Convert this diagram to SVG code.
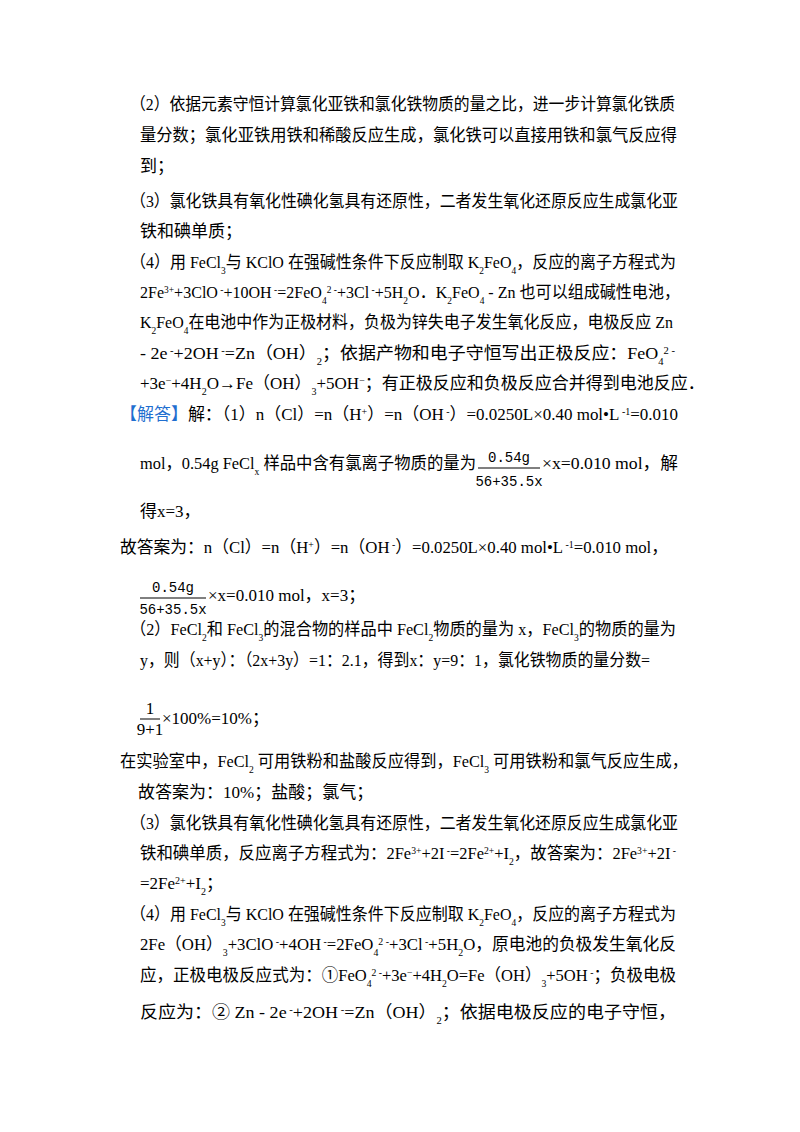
<svg xmlns="http://www.w3.org/2000/svg" width="800" height="1132" viewBox="0 0 800 1132">
<style>
.t{font-family:"Liberation Serif","Noto Sans CJK SC",serif;font-size:17px;fill:#000}
.f{font-family:"Liberation Mono","Noto Sans CJK SC",monospace;font-size:14px;fill:#000}
.b{baseline-shift:sub;font-size:10px}
.p{baseline-shift:super;font-size:10px}
.blue{fill:#1f6fd0}
line{stroke:#000;stroke-width:1}
</style>
<rect width="800" height="1132" fill="#fff"/>
<g id="text">
<text class="t" x="130" y="110" textLength="545" lengthAdjust="spacingAndGlyphs">（2）依据元素守恒计算氯化亚铁和氯化铁物质的量之比，进一步计算氯化铁质</text>
<text class="t" x="140" y="141" textLength="537" lengthAdjust="spacingAndGlyphs">量分数；氯化亚铁用铁和稀酸反应生成，氯化铁可以直接用铁和氯气反应得</text>
<text class="t" x="140" y="172">到；</text>
<text class="t" x="130" y="207" textLength="548" lengthAdjust="spacingAndGlyphs">（3）氯化铁具有氧化性碘化氢具有还原性，二者发生氧化还原反应生成氯化亚</text>
<text class="t" x="140" y="237">铁和碘单质；</text>
<text class="t" x="130" y="268" textLength="546" lengthAdjust="spacingAndGlyphs">（4）用 FeCl<tspan class="b">3</tspan>与 KClO 在强碱性条件下反应制取 K<tspan class="b">2</tspan>FeO<tspan class="b">4</tspan>，反应的离子方程式为</text>
<text class="t" x="140" y="298" textLength="540" lengthAdjust="spacingAndGlyphs">2Fe<tspan class="p">3+</tspan>+3ClO<tspan class="p"> -</tspan>+10OH<tspan class="p"> -</tspan>=2FeO<tspan class="b">4</tspan><tspan class="p">2 -</tspan>+3Cl<tspan class="p"> -</tspan>+5H<tspan class="b">2</tspan>O．K<tspan class="b">2</tspan>FeO<tspan class="b">4</tspan> - Zn 也可以组成碱性电池，</text>
<text class="t" x="140" y="328" textLength="533" lengthAdjust="spacingAndGlyphs">K<tspan class="b">2</tspan>FeO<tspan class="b">4</tspan>在电池中作为正极材料，负极为锌失电子发生氧化反应，电极反应 Zn</text>
<text class="t" x="140" y="359" textLength="535" lengthAdjust="spacingAndGlyphs"> - 2e<tspan class="p"> -</tspan>+2OH<tspan class="p"> -</tspan>=Zn（OH）<tspan class="b">2</tspan>；依据产物和电子守恒写出正极反应：FeO<tspan class="b">4</tspan><tspan class="p">2 -</tspan></text>
<text class="t" x="140" y="389">+3e<tspan class="p">−</tspan>+4H<tspan class="b">2</tspan>O→Fe（OH）<tspan class="b">3</tspan>+5OH<tspan class="p">−</tspan>；有正极反应和负极反应合并得到电池反应．</text>
<text class="t" x="120" y="420" textLength="558" lengthAdjust="spacingAndGlyphs"><tspan class="blue">【解答】</tspan>解：（1）n（Cl）=n（H<tspan class="p">+</tspan>）=n（OH<tspan class="p"> -</tspan>）=0.0250L×0.40 mol•L<tspan class="p"> -1</tspan>=0.010</text>
<text class="t" x="140" y="469" textLength="336" lengthAdjust="spacingAndGlyphs">mol，0.54g FeCl<tspan class="b">x</tspan> 样品中含有氯离子物质的量为</text>
<text class="f" x="509" y="462" text-anchor="middle">0.54g</text>
<line x1="478" y1="468" x2="540" y2="468"/>
<text class="f" x="509" y="486" text-anchor="middle">56+35.5x</text>
<text class="t" x="542" y="469" textLength="136" lengthAdjust="spacingAndGlyphs">×x=0.010 mol，解</text>
<text class="t" x="140" y="517">得x=3，</text>
<text class="t" x="120" y="553" textLength="548" lengthAdjust="spacingAndGlyphs">故答案为：n（Cl）=n（H<tspan class="p">+</tspan>）=n（OH<tspan class="p"> -</tspan>）=0.0250L×0.40 mol•L<tspan class="p"> -1</tspan>=0.010 mol，</text>
<text class="f" x="173" y="592" text-anchor="middle">0.54g</text>
<line x1="140" y1="598" x2="206" y2="598"/>
<text class="f" x="173" y="614" text-anchor="middle">56+35.5x</text>
<text class="t" x="208" y="601">×x=0.010 mol，x=3；</text>
<text class="t" x="130" y="635" textLength="546" lengthAdjust="spacingAndGlyphs">（2）FeCl<tspan class="b">2</tspan>和 FeCl<tspan class="b">3</tspan>的混合物的样品中 FeCl<tspan class="b">2</tspan>物质的量为 x，FeCl<tspan class="b">3</tspan>的物质的量为</text>
<text class="t" x="140" y="666" textLength="510" lengthAdjust="spacingAndGlyphs">y，则（x+y）：（2x+3y）=1：2.1，得到x：y=9：1，氯化铁物质的量分数=</text>
<text class="t" x="150" y="714" text-anchor="middle" font-size="15">1</text>
<line x1="140" y1="719" x2="160" y2="719"/>
<text class="t" x="150" y="735" text-anchor="middle" font-size="15">9+1</text>
<text class="t" x="162" y="724">×100%=10%；</text>
<text class="t" x="120" y="767" textLength="568" lengthAdjust="spacingAndGlyphs">在实验室中，FeCl<tspan class="b">2</tspan> 可用铁粉和盐酸反应得到，FeCl<tspan class="b">3</tspan> 可用铁粉和氯气反应生成，</text>
<text class="t" x="138" y="798">故答案为：10%；盐酸；氯气；</text>
<text class="t" x="130" y="829" textLength="548" lengthAdjust="spacingAndGlyphs">（3）氯化铁具有氧化性碘化氢具有还原性，二者发生氧化还原反应生成氯化亚</text>
<text class="t" x="140" y="859" textLength="536" lengthAdjust="spacingAndGlyphs">铁和碘单质，反应离子方程式为：2Fe<tspan class="p">3+</tspan>+2I<tspan class="p"> -</tspan>=2Fe<tspan class="p">2+</tspan>+I<tspan class="b">2</tspan>，故答案为：2Fe<tspan class="p">3+</tspan>+2I<tspan class="p"> -</tspan></text>
<text class="t" x="140" y="889">=2Fe<tspan class="p">2+</tspan>+I<tspan class="b">2</tspan>；</text>
<text class="t" x="130" y="920" textLength="546" lengthAdjust="spacingAndGlyphs">（4）用 FeCl<tspan class="b">3</tspan>与 KClO 在强碱性条件下反应制取 K<tspan class="b">2</tspan>FeO<tspan class="b">4</tspan>，反应的离子方程式为</text>
<text class="t" x="140" y="950" textLength="536" lengthAdjust="spacingAndGlyphs">2Fe（OH）<tspan class="b">3</tspan>+3ClO<tspan class="p"> -</tspan>+4OH<tspan class="p"> -</tspan>=2FeO<tspan class="b">4</tspan><tspan class="p">2 -</tspan>+3Cl<tspan class="p"> -</tspan>+5H<tspan class="b">2</tspan>O，原电池的负极发生氧化反</text>
<text class="t" x="140" y="981" textLength="536" lengthAdjust="spacingAndGlyphs">应，正极电极反应式为：①FeO<tspan class="b">4</tspan><tspan class="p">2 -</tspan>+3e<tspan class="p">−</tspan>+4H<tspan class="b">2</tspan>O=Fe（OH）<tspan class="b">3</tspan>+5OH<tspan class="p"> -</tspan>；负极电极</text>
<text class="t" x="140" y="1018" textLength="536" lengthAdjust="spacingAndGlyphs">反应为：② Zn - 2e<tspan class="p"> -</tspan>+2OH<tspan class="p"> -</tspan>=Zn（OH）<tspan class="b">2</tspan>；依据电极反应的电子守恒，</text>
</g>
</svg>
